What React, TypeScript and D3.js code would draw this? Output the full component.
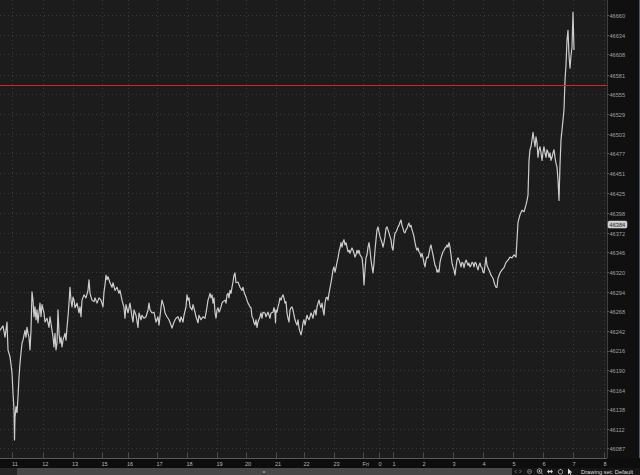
import React from "react";
import * as d3 from "d3";

// ---- data ----
const PRICE_TICKS = [46660, 46634, 46608, 46581, 46555, 46529, 46503, 46477, 46451, 46425, 46398, 46372, 46346, 46320, 46294, 46268, 46242, 46216, 46190, 46164, 46138, 46112, 46087];
const TIME_LABELS = ["11", "12", "13", "15", "16", "17", "18", "19", "20", "21", "22", "23", "Fri", "0", "1", "2", "3", "4", "5", "6", "7", "8"];
const TIME_POS = [12.5, 42.7, 72.5, 102, 127.5, 157, 187, 217, 245.5, 275.5, 304, 334, 363, 379, 393, 423, 453, 483, 513, 543, 573, 604];
const ALERT_LEVEL = 46569;
const LAST_LABEL = 46384;

const SERIES: [number, number][] = [
  [0,46244],[3,46250],[5,46235],[7,46255],[8,46218],[10,46209],[12,46188],[13,46161],[14,46139],[14.5,46099],[15,46129],[16,46143],[17,46135],[18,46156],[19,46182],[20,46201],[21,46214],[22,46227],[23,46231],[25,46244],[26,46235],[27,46248],[28,46240],[29,46235],[30,46218],[31,46244],[32,46295],[33,46284],[34,46262],[35,46275],[36,46258],[37,46271],[38,46254],[40,46280],[41,46262],[42,46278],[44,46267],[45,46255],[47,46260],[49,46248],[50,46262],[52,46244],[53,46235],[54,46222],[55,46240],[56,46218],[57,46227],[58,46271],[59,46240],[60,46227],[61,46235],[62,46222],[63,46231],[65,46240],[66,46231],[67,46248],[68,46262],[69,46280],[70,46301],[71,46284],[72,46275],[73,46288],[74,46284],[75,46274],[77,46280],[79,46267],[80,46275],[81,46262],[82,46284],[84,46291],[86,46287],[88,46297],[89,46311],[90,46293],[92,46284],[94,46282],[95,46287],[97,46280],[99,46287],[101,46284],[103,46275],[104,46295],[105,46304],[106,46317],[107,46311],[108,46315],[110,46307],[112,46301],[113,46307],[115,46297],[117,46301],[119,46293],
  [120,46297],[122,46284],[124,46274],[125,46260],[126,46278],[128,46267],[130,46280],[132,46262],[133,46255],[134,46271],[136,46264],[138,46248],[139,46267],[141,46258],[142,46264],[144,46260],[146,46262],[148,46271],[149,46280],[150,46271],[152,46267],[154,46268],[156,46255],[158,46262],[159,46251],[161,46274],[162,46284],[164,46275],[165,46267],[167,46262],[169,46258],[171,46251],[172,46247],[174,46255],[176,46260],[178,46262],[180,46255],[181,46262],[183,46255],[184,46264],[186,46275],[187,46291],[188,46284],[189,46287],[190,46275],[192,46271],[193,46278],[195,46268],[196,46262],[198,46254],[199,46264],[201,46258],[203,46262],[205,46260],[206,46267],[207,46275],[208,46284],[209,46288],[210,46293],[211,46287],[212,46291],[213,46280],[214,46287],[215,46268],[216,46260],[217,46271],[218,46274],[219,46268],[220,46271],[221,46275],[222,46280],[223,46282],[225,46284],[226,46280],[227,46291],[228,46293],[229,46287],[230,46297],[231,46293],[232,46301],[233,46308],[234,46317],[235,46320],[236,46307],[238,46308],
  [240,46301],[242,46297],[243,46301],[244,46295],[245,46291],[246,46288],[247,46284],[248,46280],[249,46278],[250,46275],[251,46274],[252,46262],[253,46260],[254,46254],[255,46251],[256,46258],[257,46248],[258,46255],[260,46262],[261,46267],[262,46260],[263,46268],[265,46267],[266,46262],[268,46268],[269,46264],[270,46260],[271,46267],[273,46268],[274,46274],[275,46267],[275.5,46254],[276,46271],[277,46268],[278,46275],[279,46280],[280,46287],[281,46284],[282,46288],[283,46291],[284,46287],[285,46280],[286,46282],[287,46267],[288,46260],[289,46255],[290,46271],[291,46274],[292,46275],[293,46271],[294,46264],[295,46258],[296,46254],[297,46251],[298,46258],[299,46247],[300,46242],[301,46238],[302,46244],[303,46254],[304,46258],[305,46251],[306,46258],[307,46264],[308,46260],[309,46258],[310,46262],[311,46267],[312,46264],[313,46260],[314,46268],[315,46271],[316,46264],[317,46275],[318,46280],[319,46284],[320,46278],[321,46274],[322,46280],[323,46271],[324,46264],[325,46280],[326,46287],[327,46288],[328,46284],[329,46293],[330,46300],[331,46307],[332,46315],[333,46324],[334,46328],[335,46321],[336,46327],[337,46334],[338,46340],[339,46348],[340,46353],[341,46360],[342,46354],[343,46361],[344,46364],[345,46357],[346,46360],[347,46354],[348,46348],[349,46350],[350,46346],[351,46350],[352,46353],[353,46350],[354,46346],[355,46341],[356,46344],[357,46350],[358,46346],[359,46350],
  [360,46344],[362,46340],[363,46328],[364,46304],[365,46324],[366,46340],[367,46344],[368,46354],[369,46360],[370,46350],[371,46337],[372,46328],[373,46320],[374,46333],[375,46350],[376,46364],[377,46377],[378,46381],[379,46374],[380,46368],[381,46364],[382,46360],[383,46354],[384,46360],[385,46368],[386,46379],[387,46381],[388,46377],[389,46373],[390,46368],[391,46364],[392,46354],[393,46350],[394,46364],[395,46373],[396,46374],[397,46377],[398,46381],[399,46383],[400,46387],[401,46390],[402,46383],[403,46379],[404,46374],[405,46373],[406,46377],[407,46379],[408,46383],[409,46386],[410,46381],[411,46383],[412,46377],[413,46373],[414,46368],[415,46360],[416,46354],[417,46350],[418,46353],[419,46348],[420,46346],[421,46341],[422,46346],[423,46340],[424,46333],[425,46328],[426,46337],[427,46341],[428,46340],[429,46346],[430,46353],[431,46357],[432,46350],[433,46344],[434,46337],[435,46330],[436,46328],[437,46321],[438,46324],[439,46321],[440,46334],[441,46340],[442,46344],[443,46348],[444,46350],[445,46353],[446,46354],[447,46357],[448,46354],[449,46360],[450,46354],[451,46344],[452,46333],[453,46328],[454,46324],[455,46317],[456,46328],[457,46337],[458,46340],[459,46337],[460,46333],[461,46328],[462,46334],[463,46333],[464,46327],[465,46333],[466,46337],[467,46334],[468,46330],[469,46333],[470,46328],[471,46330],[472,46334],[473,46333],[474,46328],[475,46334],[476,46333],[477,46328],[478,46324],[479,46330],[480,46333],[481,46328],[482,46327],[483,46321],[484,46320],[485,46330],[486,46341],[487,46330],[488,46327],[489,46324],[490,46321],[491,46317],[492,46315],[493,46313],[494,46308],[495,46304],[496,46301],[497,46301],
  [498,46313],[500,46320],[502,46324],[504,46327],[506,46334],[508,46337],[510,46341],[512,46340],[514,46344],[516,46341],[517,46364],[518,46387],[520,46397],[522,46403],[524,46401],[526,46410],[527,46416],[528,46423],[529,46469],[530,46483],[531,46487],[532,46496],[533,46506],[534,46496],[535,46487],[536,46500],[537,46492],[538,46473],[539,46483],[540,46487],[541,46479],[542,46469],[543,46480],[544,46487],[545,46479],[546,46473],[547,46483],[548,46480],[549,46473],[550,46479],[551,46469],[552,46473],[553,46479],[554,46483],[555,46473],[556,46465],[557,46460],[558,46443],[559,46416],[560,46463],[561,46496],[562,46509],[564,46536],[565,46575],[566,46595],[567,46628],[568,46641],[569,46608],[570,46591],[571,46608],[572,46618],[573,46665],[574,46615]
];

const W = 640;
const H = 475;
const PLOT_R = 607;
const PLOT_B = 458;

export default function App() {
  const x = d3.scaleLinear().domain([0, 607]).range([0, PLOT_R]);
  const y = d3.scaleLinear().domain([46087, 46660]).range([449, 16]);
  const line = d3
    .line<[number, number]>()
    .x((d) => x(d[0]))
    .y((d) => y(d[1]));
  const font = "'Liberation Sans', Arial, sans-serif";
  const alertY = Math.round(y(ALERT_LEVEL));

  return (
    <svg
      width={W}
      height={H}
      style={{ position: "fixed", left: 0, top: 0, display: "block" }}
      fontFamily={font}
    >
      {/* backgrounds */}
      <rect x={0} y={0} width={W} height={H} fill="#0d0d0d" />
      <rect x={0} y={0} width={PLOT_R} height={PLOT_B} fill="#1c1c1c" />
      <rect x={PLOT_R} y={0} width={W - PLOT_R} height={PLOT_B} fill="#101010" />

      {/* horizontal grid */}
      {PRICE_TICKS.map((p) => (
        <line
          key={"hg" + p}
          x1={0}
          x2={PLOT_R}
          y1={Math.round(y(p)) - 0.5}
          y2={Math.round(y(p)) - 0.5}
          stroke="#3a3a3a"
          strokeWidth={1}
          strokeDasharray="1,3"
        />
      ))}
      {/* vertical grid */}
      {TIME_POS.map((t, i) => (
        <line
          key={"vg" + i}
          x1={Math.round(x(t)) + 0.5}
          x2={Math.round(x(t)) + 0.5}
          y1={0}
          y2={PLOT_B}
          stroke="#3a3a3a"
          strokeWidth={1}
          strokeDasharray="1,3"
        />
      ))}
      {/* bottom ticks */}
      {TIME_POS.map((t, i) => (
        <line
          key={"vt" + i}
          x1={Math.round(x(t)) + 0.5}
          x2={Math.round(x(t)) + 0.5}
          y1={PLOT_B - 5}
          y2={PLOT_B}
          stroke="#4a4a4a"
          strokeWidth={1}
        />
      ))}

      {/* price line */}
      <path
        d={line(SERIES) || ""}
        fill="none"
        stroke="#cdcdcd"
        strokeWidth={1.2}
        strokeLinejoin="round"
      />

      {/* alert line */}
      <rect x={0} y={alertY} width={PLOT_R} height={1} fill="#e0201c" shapeRendering="crispEdges" />

      {/* axis borders */}
      <line x1={PLOT_R + 0.5} x2={PLOT_R + 0.5} y1={0} y2={PLOT_B} stroke="#3e3e3e" />
      <line x1={0} x2={PLOT_R} y1={PLOT_B + 0.5} y2={PLOT_B + 0.5} stroke="#5a5a5a" />
      <line x1={W - 0.5} x2={W - 0.5} y1={0} y2={PLOT_B} stroke="#4a5a6a" />

      {/* right axis labels */}
      {PRICE_TICKS.map((p) => (
        <g key={"yl" + p}>
          <line
            x1={PLOT_R}
            x2={PLOT_R + 2}
            y1={Math.round(y(p)) - 0.5}
            y2={Math.round(y(p)) - 0.5}
            stroke="#555"
          />
          <text x={609.5} y={y(p)} dy="0.35em" fontSize={5.6} fill="#a0a0a0">
            {p}
          </text>
        </g>
      ))}

      {/* last price label */}
      <rect
        x={608}
        y={y(LAST_LABEL) - 3.5}
        width={19}
        height={7}
        rx={1.5}
        fill="#c9c9c9"
        stroke="#e6e6e6"
        strokeWidth={0.5}
      />
      <text x={609.6} y={y(LAST_LABEL)} dy="0.35em" fontSize={5.6} fill="#2a2a2a">
        {LAST_LABEL}
      </text>

      {/* time labels */}
      {TIME_LABELS.map((lab, i) => (
        <text key={"xl" + i} x={x(TIME_POS[i]) - 0.5} y={465.5} fontSize={5.6} fill="#b4b4b4">
          {lab}
        </text>
      ))}

      {/* scrollbar */}
      <rect x={0} y={468} width={17} height={7} fill="#262626" />
      <rect x={17} y={468} width={495} height={7} fill="#484848" />
      <rect x={263} y={471} width={2} height={2} fill="#8a8a8a" />
      <rect x={512} y={468} width={128} height={7} fill="#151515" />

      {/* toolbar icons */}
      <g stroke="#9a9a9a" fill="none" strokeWidth={0.7}>
        <path d="M516.5,470 l-1.5,1.5 l1.5,1.5" />
        <path d="M519.5,470 l1.5,1.5 l-1.5,1.5" />
        <circle cx={529.5} cy={471.5} r={2} />
        <line x1={528.5} x2={530.5} y1={471.5} y2={471.5} />
        <circle cx={539.5} cy={471} r={2.3} stroke="#d0d0d0" />
        <line x1={541} x2={542.5} y1={472.6} y2={474.2} stroke="#d0d0d0" />
        <line x1={538.5} x2={540.5} y1={471} y2={471} stroke="#d0d0d0" />
        <line x1={539.5} x2={539.5} y1={470} y2={472} stroke="#d0d0d0" />
      </g>
      <g fill="#d0d0d0">
        <path d="M547,471.5 l2,-2 v1.3 h2 v-1.3 l2,2 l-2,2 v-1.3 h-2 v1.3 z" />
        <path d="M568,468.5 v6 l1.5,-1.5 l1,2 l0.8,-0.4 l-1,-2 h2 z" fill="#e0e0e0" />
      </g>
      <g stroke="#b0b0b0" fill="none" strokeWidth={0.8}>
        <circle cx={560.5} cy={471.8} r={2.2} />
        <line x1={560.5} x2={560.5} y1={468.8} y2={470} />
      </g>
      <text x={581} y={474} fontSize={5.8} fill="#d8d8d8">
        Drawing set: Default
      </text>
    </svg>
  );
}
